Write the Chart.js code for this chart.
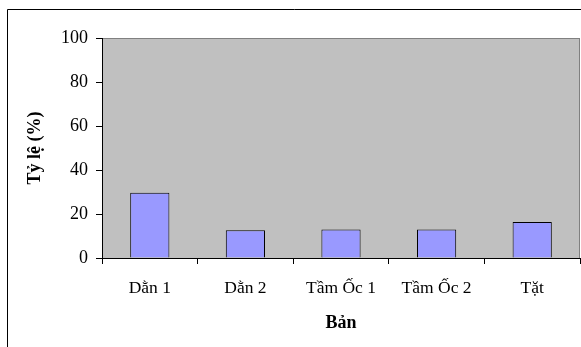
<!DOCTYPE html>
<html>
<head>
<meta charset="utf-8">
<script src="https://cdn.jsdelivr.net/npm/chart.js@4"></script>
<style>
  html, body { margin: 0; padding: 0; background: #ffffff; }
  #wrap { width: 581px; height: 347px; }
</style>
</head>
<body>
<div id="wrap"><canvas id="c" width="581" height="347"></canvas></div>
<script>
// Tỷ lệ theo từng loại bản
const categories = ['Dằn 1', 'Dằn 2', 'Tầm Ốc 1', 'Tầm Ốc 2', 'Tặt'];
const rates = [29.7, 12.6, 13.0, 13.0, 16.4];
const yTicks = [0, 20, 40, 60, 80, 100];

const serif = 'Liberation Serif, Times New Roman, serif';

// grey plot area plus the outer frame of the chart
const plotBackground = {
  id: 'plotBackground',
  beforeDraw(chart) {
    const { ctx, chartArea: a } = chart;
    ctx.save();
    ctx.fillStyle = '#ffffff';
    ctx.fillRect(0, 0, chart.width, chart.height);
    ctx.fillStyle = '#c0c0c0';
    ctx.fillRect(a.left, a.top, a.right - a.left, a.bottom - a.top);
    ctx.strokeStyle = '#808080';
    ctx.lineWidth = 1;
    ctx.strokeRect(a.left + 0.5, a.top + 0.5, a.right - a.left - 1, a.bottom - a.top);
    ctx.strokeStyle = '#000000';
    ctx.beginPath();
    ctx.moveTo(7.5, chart.height + 2);
    ctx.lineTo(7.5, 9.5);
    ctx.lineTo(chart.width + 2, 9.5);
    ctx.stroke();
    ctx.restore();
  }
};

new Chart(document.getElementById('c'), {
  type: 'bar',
  data: {
    labels: categories,
    datasets: [{
      data: rates,
      backgroundColor: '#9999ff',
      borderColor: '#000000',
      borderWidth: 1,
      barPercentage: 0.41,
      categoryPercentage: 1.0
    }]
  },
  options: {
    responsive: false,
    devicePixelRatio: 1,
    animation: false,
    layout: { padding: { top: 38, right: 1, left: 0, bottom: 0 } },
    plugins: { legend: { display: false }, tooltip: { enabled: false } },
    scales: {
      x: {
        afterFit(scale) { scale.height = 89; },
        grid: {
          offset: true,
          drawOnChartArea: false,
          drawTicks: true,
          tickLength: 6,
          color: '#000000'
        },
        border: { display: true, color: '#000000', width: 1 },
        ticks: {
          color: '#000000',
          font: { family: serif, size: 17.5 },
          padding: 14,
          maxRotation: 0
        },
        title: {
          display: true,
          text: 'Bản',
          color: '#000000',
          font: { family: serif, size: 18, weight: 'bold' },
          padding: { top: 0, bottom: 13 }
        }
      },
      y: {
        min: 0,
        max: 100,
        afterFit(scale) { scale.width = 102; },
        afterBuildTicks(scale) { scale.ticks = yTicks.map(v => ({ value: v })); },
        grid: {
          drawOnChartArea: false,
          drawTicks: true,
          tickLength: 6,
          color: '#000000'
        },
        border: { display: true, color: '#000000', width: 1 },
        ticks: {
          color: '#000000',
          font: { family: serif, size: 18 },
          padding: 8
        },
        title: {
          display: true,
          text: 'Tỷ lệ (%)',
          color: '#000000',
          font: { family: serif, size: 18, weight: 'bold' },
          padding: { top: 25, bottom: 0 }
        }
      }
    }
  },
  plugins: [plotBackground]
});
</script>
</body>
</html>
